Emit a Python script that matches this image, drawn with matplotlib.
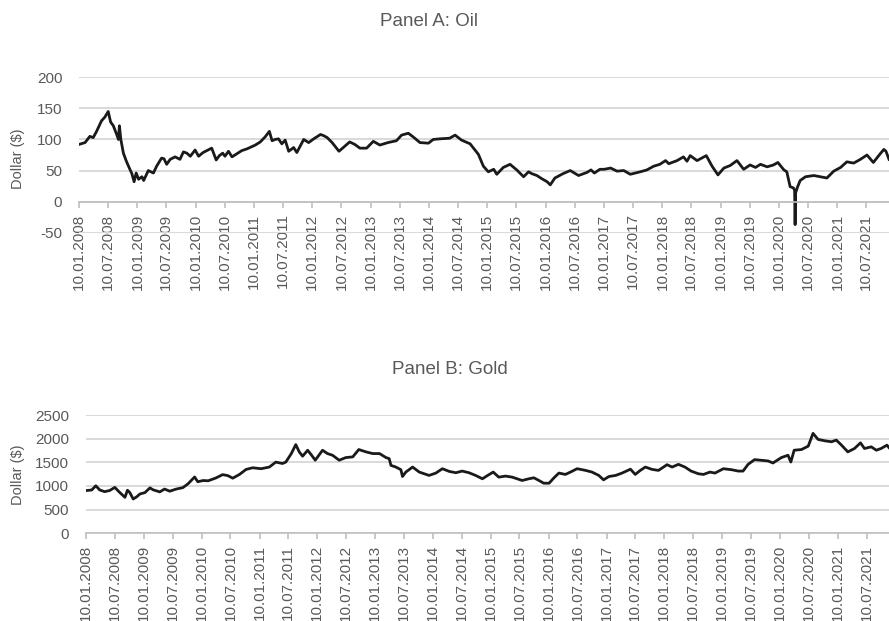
import pandas as pd
import matplotlib
matplotlib.use("Agg")
import matplotlib.pyplot as plt
import matplotlib.dates as mdates

plt.rcParams['font.family'] = ['Liberation Sans', 'DejaVu Sans']
plt.rcParams['axes.unicode_minus'] = False

TEXT_GREY = "#595959"
GRID_GREY = "#d9d9d9"
AXIS_GREY = "#bfbfbf"
LINE_COL = "#1a1a1a"

# Panel A: oil price
oil_dates = [
    "2008-01-10", "2008-02-17", "2008-03-18", "2008-04-08", "2008-04-29", "2008-05-30",
    "2008-06-20", "2008-07-11", "2008-07-26", "2008-08-12", "2008-09-02", "2008-09-13",
    "2008-09-19", "2008-09-28", "2008-10-14", "2008-10-31", "2008-11-15", "2008-12-06",
    "2008-12-20", "2009-01-02", "2009-01-17", "2009-02-07", "2009-02-18", "2009-03-19",
    "2009-04-20", "2009-05-10", "2009-06-10", "2009-06-25", "2009-07-12", "2009-08-03",
    "2009-09-03", "2009-10-03", "2009-10-25", "2009-11-15", "2009-12-07", "2010-01-06",
    "2010-01-28", "2010-02-25", "2010-03-20", "2010-04-20", "2010-05-18", "2010-06-07",
    "2010-06-28", "2010-07-12", "2010-08-03", "2010-08-25", "2010-09-25", "2010-10-25",
    "2010-11-28", "2011-01-18", "2011-02-18", "2011-03-20", "2011-04-16", "2011-05-03",
    "2011-05-22", "2011-06-12", "2011-07-03", "2011-07-24", "2011-08-15", "2011-09-15",
    "2011-10-05", "2011-11-17", "2011-12-18", "2012-01-19", "2012-03-01", "2012-03-22",
    "2012-04-12", "2012-05-13", "2012-06-25", "2012-08-31", "2012-10-02", "2012-11-03",
    "2012-12-15", "2013-01-26", "2013-03-08", "2013-04-28", "2013-06-20", "2013-07-22",
    "2013-09-02", "2013-10-03", "2013-11-14", "2014-01-06", "2014-02-05", "2014-03-19",
    "2014-05-19", "2014-06-22", "2014-08-01", "2014-09-24", "2014-10-25", "2014-11-15",
    "2014-12-16", "2015-01-16", "2015-02-19", "2015-03-10", "2015-04-20", "2015-06-01",
    "2015-07-13", "2015-08-25", "2015-09-25", "2015-10-15", "2015-11-16", "2015-12-16",
    "2016-01-19", "2016-02-08", "2016-03-08", "2016-04-28", "2016-06-12", "2016-08-03",
    "2016-09-25", "2016-10-20", "2016-11-10", "2016-12-15", "2017-01-10", "2017-02-20",
    "2017-04-01", "2017-05-13", "2017-06-23", "2017-08-25", "2017-10-05", "2017-11-17",
    "2017-12-25", "2018-01-30", "2018-02-19", "2018-04-12", "2018-05-22", "2018-06-13",
    "2018-07-03", "2018-08-15", "2018-10-12", "2018-11-17", "2018-12-24", "2019-01-30",
    "2019-03-10", "2019-04-22", "2019-06-03", "2019-07-13", "2019-08-16", "2019-09-16",
    "2019-10-28", "2019-12-07", "2020-01-03", "2020-02-10", "2020-02-28", "2020-03-20",
    "2020-04-10", "2020-04-17", "2020-04-20", "2020-04-23", "2020-05-06", "2020-05-22",
    "2020-06-24", "2020-08-15", "2020-09-24", "2020-11-05", "2020-12-18", "2021-01-30",
    "2021-03-10", "2021-04-22", "2021-06-03", "2021-07-14", "2021-08-23", "2021-10-05",
    "2021-10-28", "2021-11-10", "2021-11-29",
]
oil_price = [
    92, 95, 105, 103, 113, 130,
    136, 145, 128, 122, 108, 100,
    122, 100, 78, 66, 57, 45,
    32, 46, 36, 40, 34, 50,
    46, 57, 70, 69, 60, 68,
    72, 68, 80, 78, 73, 83,
    73, 79, 82, 86, 67, 74,
    78, 73, 81, 72, 77, 82,
    85, 91, 96, 104, 113, 98,
    100, 101, 93, 99, 81, 87,
    79, 100, 95, 101, 108, 106,
    103, 95, 81, 96, 92, 86,
    86, 97, 91, 95, 98, 107,
    110, 104, 95, 94, 100, 101,
    102, 107, 99, 93, 83, 76,
    57, 48, 52, 44, 55, 60,
    51, 40, 48, 45, 42, 37,
    32, 27, 38, 45, 50, 42,
    47, 51, 46, 52, 52, 54,
    49, 50, 44, 48, 51, 57,
    60, 66, 61, 66, 72, 65,
    74, 66, 74, 57, 43, 54,
    58, 66, 52, 59, 55, 60,
    56, 59, 63, 51, 48, 24,
    22, 18, -37, 14, 24, 34,
    40, 42, 40, 38, 49, 55,
    64, 62, 68, 75, 63, 77,
    84, 81, 68,
]

# Panel B: gold price
gold_dates = [
    "2008-01-10", "2008-02-15", "2008-03-12", "2008-04-06", "2008-05-07", "2008-06-08",
    "2008-07-10", "2008-08-11", "2008-09-12", "2008-09-28", "2008-10-13", "2008-11-03",
    "2008-11-25", "2008-12-15", "2009-01-16", "2009-02-17", "2009-03-08", "2009-04-20",
    "2009-05-20", "2009-06-22", "2009-08-02", "2009-09-13", "2009-10-15", "2009-11-26",
    "2009-12-16", "2010-01-18", "2010-02-20", "2010-04-10", "2010-05-22", "2010-06-23",
    "2010-07-25", "2010-09-06", "2010-10-17", "2010-11-28", "2011-01-20", "2011-03-13",
    "2011-04-23", "2011-06-04", "2011-06-25", "2011-07-30", "2011-08-27", "2011-09-18",
    "2011-10-09", "2011-11-10", "2011-12-05", "2011-12-28", "2012-02-12", "2012-03-14",
    "2012-04-15", "2012-05-27", "2012-07-08", "2012-08-21", "2012-09-28", "2012-11-13",
    "2012-12-25", "2013-02-06", "2013-03-19", "2013-04-08", "2013-04-19", "2013-05-20",
    "2013-06-21", "2013-07-01", "2013-07-22", "2013-09-03", "2013-10-15", "2013-12-16",
    "2014-01-28", "2014-03-10", "2014-04-22", "2014-06-03", "2014-07-13", "2014-08-25",
    "2014-10-06", "2014-11-18", "2014-12-10", "2015-01-25", "2015-03-01", "2015-04-13",
    "2015-05-25", "2015-07-27", "2015-09-07", "2015-10-09", "2015-11-10", "2015-12-10",
    "2016-01-13", "2016-02-13", "2016-03-15", "2016-04-25", "2016-05-27", "2016-07-08",
    "2016-08-31", "2016-10-10", "2016-11-22", "2016-12-22", "2017-01-25", "2017-03-08",
    "2017-04-18", "2017-06-10", "2017-07-10", "2017-08-11", "2017-09-12", "2017-10-24",
    "2017-12-04", "2018-01-27", "2018-02-28", "2018-04-09", "2018-05-20", "2018-06-28",
    "2018-08-13", "2018-09-14", "2018-10-25", "2018-11-26", "2019-01-18", "2019-03-10",
    "2019-04-22", "2019-05-22", "2019-06-23", "2019-08-03", "2019-09-15", "2019-10-27",
    "2019-11-27", "2020-01-19", "2020-03-01", "2020-03-19", "2020-04-09", "2020-05-25",
    "2020-07-07", "2020-08-06", "2020-09-07", "2020-10-19", "2020-12-01", "2020-12-31",
    "2021-02-02", "2021-03-14", "2021-04-25", "2021-06-02", "2021-06-27", "2021-08-09",
    "2021-09-10", "2021-10-10", "2021-11-16", "2021-11-29",
]
gold_price = [
    903, 915, 1005, 915, 880, 905,
    970, 860, 760, 910, 860, 725,
    770, 830, 860, 960, 920, 875,
    935, 890, 935, 965, 1045, 1190,
    1090, 1115, 1110, 1170, 1240, 1220,
    1165, 1245, 1350, 1385, 1365, 1400,
    1505, 1475, 1505, 1685, 1875, 1720,
    1630, 1755, 1650, 1545, 1755, 1685,
    1650, 1545, 1600, 1615, 1770, 1720,
    1685, 1685, 1600, 1578, 1436, 1400,
    1344, 1200, 1294, 1400, 1294, 1223,
    1273, 1365, 1308, 1280, 1315, 1280,
    1223, 1152, 1200, 1294, 1187, 1209,
    1187, 1116, 1152, 1173, 1116, 1059,
    1059, 1173, 1273, 1244, 1294, 1365,
    1329, 1294, 1223, 1130, 1200, 1223,
    1273, 1355, 1244, 1329, 1400, 1351,
    1329, 1450, 1400, 1457, 1400, 1315,
    1258, 1244, 1294, 1273, 1365, 1344,
    1315, 1315, 1457, 1557, 1543, 1529,
    1486, 1600, 1650, 1507, 1756, 1770,
    1842, 2112, 1984, 1955, 1934, 1970,
    1863, 1721, 1792, 1912, 1792, 1827,
    1756, 1792, 1863, 1810,
]

oil = pd.Series(oil_price, index=pd.to_datetime(oil_dates))
gold = pd.Series(gold_price, index=pd.to_datetime(gold_dates))

x_start = pd.Timestamp("2008-01-10")
x_end = pd.Timestamp("2021-11-29")

W, H = 889, 621
fig = plt.figure(figsize=(W / 100, H / 100), dpi=100)


def px_axes(left, top, bottom):
    # axes box from pixel positions, right edge at the figure border
    return fig.add_axes([left / W, 1 - bottom / H, 1 - left / W, (bottom - top) / H])


def style_panel(ax, ymin, ymax, step):
    ax.set_xlim(x_start, x_end)
    ax.set_ylim(ymin, ymax)
    ax.set_yticks(range(ymin, ymax + 1, step))
    ax.grid(axis="y", color=GRID_GREY, linewidth=1.4)
    ax.set_axisbelow(True)
    for side in ("left", "right", "top"):
        ax.spines[side].set_visible(False)
    ax.spines["bottom"].set_position(("data", 0))
    ax.spines["bottom"].set_color(AXIS_GREY)
    ax.spines["bottom"].set_linewidth(1.2)
    ax.xaxis.set_major_locator(mdates.MonthLocator(bymonth=(1, 7), bymonthday=10))
    ax.xaxis.set_major_formatter(mdates.DateFormatter("%d.%m.%Y"))
    ax.tick_params(axis="x", direction="out", length=4.5, width=1.2, color=AXIS_GREY,
                   labelcolor=TEXT_GREY, labelsize=11, labelrotation=90, pad=4)
    ax.tick_params(axis="y", length=0, labelcolor=TEXT_GREY, labelsize=11, pad=12)
    for lab in ax.get_xticklabels():
        lab.set_horizontalalignment("center")
        lab.set_verticalalignment("top")


# Panel A
ax1 = px_axes(79, 77.3, 232.7)
ax1.plot(oil.index, oil.values, color=LINE_COL, linewidth=2.0)
style_panel(ax1, -50, 200, 50)
fig.text(429 / W, 1 - 22 / H, "Panel A: Oil", ha="center", va="center",
         fontsize=13.5, color=TEXT_GREY)
fig.text(18 / W, 1 - 159 / H, "Dollar ($)", rotation=90, ha="center", va="center",
         fontsize=10.5, color=TEXT_GREY)

# Panel B
ax2 = px_axes(86, 415, 533.3)
ax2.plot(gold.index, gold.values, color=LINE_COL, linewidth=2.0)
style_panel(ax2, 0, 2500, 500)
fig.text(450 / W, 1 - 370 / H, "Panel B: Gold", ha="center", va="center",
         fontsize=13.5, color=TEXT_GREY)
fig.text(18 / W, 1 - 475 / H, "Dollar ($)", rotation=90, ha="center", va="center",
         fontsize=10.5, color=TEXT_GREY)

fig.savefig("out.png", dpi=100)
